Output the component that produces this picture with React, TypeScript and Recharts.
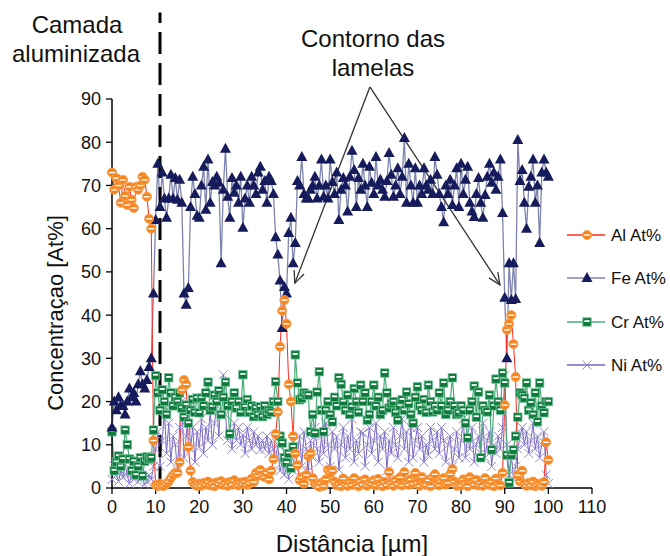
import React from 'react';
import { LineChart, Line, XAxis, YAxis, ReferenceLine } from 'recharts';

// Concentrations (At%) sampled every 0.5 µm from 0 to 100 µm
const al = [
  73, 69, 71.7, 70, 66, 71.3, 67.6, 65.5, 69.7, 66.7,
  64.8, 69.7, 69, 70, 72, 71.3, 67.4, 62.3, 60, 11,
  0.7, 0.4, 1, 0.5, 0.5, 1, 1.5, 2.3, 3, 3.5,
  3.5, 6, 22.7, 25, 24, 9.5, 4, 1.4, 0.8, 0.5,
  1, 0.5, 1.2, 0.8, 1.5, 0.6, 1.1, 0.4, 1.3, 0.9,
  1.6, 0.7, 1.2, 0.5, 1.4, 0.8, 1.8, 1.0, 0.6, 1.3,
  0.9, 1.5, 0.7, 1.1, 2.2, 1.4, 3.5, 2.8, 4.2, 3.0,
  2.5, 3.5, 2, 4, 6.7, 12.5, 17.6, 32.7, 41, 43.5,
  38, 24, 20, 12, 8, 5.3, 1.8, 2.5, 1, 3,
  7.4, 8, 2.3, 1, 0.6, 0.3, 1.2, 0.5, 2.0, 4.2,
  3.5, 4.0, 1.5, 0.6, 1.0, 0.4, 2.2, 0.8, 0.5, 1.5,
  0.7, 2.3, 1.0, 0.4, 1.6, 0.8, 2.0, 0.5, 1.2, 0.9,
  1.8, 0.6, 2.1, 1.0, 0.4, 1.4, 0.7, 3.7, 1.2, 0.5,
  1.8, 0.9, 2.5, 0.6, 3.7, 1.3, 0.7, 2.0, 1.0, 3.5,
  1.2, 0.5, 2.6, 1.0, 0.7, 1.8, 0.4, 2.5, 3.2, 1.0,
  0.6, 1.6, 2.3, 0.8, 1.2, 3.2, 4.4, 1.5, 0.5, 1.0,
  0.6, 2.0, 1.1, 0.4, 2.5, 1.4, 0.8, 1.9, 0.6, 1.2,
  0.5, 2.3, 1.0, 0.7, 1.5, 0.4, 2.2, 1.0, 0.6, 3.5,
  19.2, 36.6, 38, 40, 33.3, 25.7, 3, 1.5, 4, 1,
  0.5, 1.2, 0.6, 1.5, 0.4, 0.8, 1.0, 0.5, 1.4, 10.6,
  6.5,
];

const fe = [
  14, 20, 18, 21, 19, 19, 17, 20, 23, 21,
  22, 20, 24, 27, 24, 23, 25, 28, 30, 45,
  62, 75, 65, 73, 67, 62.5, 67, 72.5, 67, 71.7,
  66.7, 71.3, 66, 45, 42.4, 46.3, 65, 72, 68, 63,
  62.5, 70, 74.3, 64.4, 76, 66, 70.8, 70, 72, 70.6,
  52, 69, 78.5, 67.4, 62.5, 71.7, 68.3, 70, 66, 72,
  60.2, 67, 70, 66, 72, 70, 68, 73, 74.3, 69,
  71, 66, 72, 71, 68, 58, 54, 48, 37, 46.5,
  45, 59, 62.5, 52, 56.7, 71, 70, 76.6, 68, 67,
  67, 69, 70, 72, 67, 70, 76, 67.4, 70, 67,
  76, 70.8, 68, 73, 62, 69, 71.7, 70, 64, 72,
  78, 73.6, 65, 71.7, 69, 75, 70, 65, 74.3, 70.6,
  68, 76.6, 70, 71.3, 69, 67.4, 71, 77.5, 72.5, 67.4,
  70, 74, 68, 72, 81, 66, 75, 70, 66, 74,
  66, 70, 68, 74, 70, 69, 71.3, 68, 76.6, 72.5,
  68, 65, 61.5, 70, 68, 71.3, 65.5, 70, 74, 65,
  75, 68, 71.3, 74.3, 66, 64, 62.7, 68, 71.7, 66,
  62.5, 67.8, 72, 75, 70.6, 73, 69, 72, 76, 63.6,
  44, 30, 52, 43.5, 52, 43.7, 80.5, 71, 73.6, 66,
  60, 69.7, 72, 76, 66, 70, 56.7, 73, 76, 73,
  72,
];

const cr = [
  13, 4, 6, 7.4, 5, 6.7, 13.4, 10, 6.7, 4,
  6.2, 3, 5, 7, 2.8, 6.2, 7.2, 6.7, 7, 13.4,
  26, 22, 18, 22.7, 20, 17, 25.5, 22, 19, 21,
  20, 22, 18.5, 16.4, 19.2, 15, 18, 20.5, 17.5, 20.8,
  17.4, 20.8, 19, 22, 24.5, 18, 18.8, 21.5, 20, 22.5,
  17, 21, 24.5, 19, 12.5, 20, 22, 18.5, 20, 17.5,
  26.2, 18.8, 20.5, 17.5, 19, 16.5, 18.5, 17, 18.8, 16.5,
  19, 17, 18, 17.5, 20, 24.6, 20, 12, 10.4, 7,
  5.8, 8, 4.6, 9.5, 30.8, 24.3, 20.4, 20.8, 22, 21.5,
  21.5, 13, 17, 12.7, 22.2, 26.9, 18, 13, 18, 20,
  17, 15.3, 21, 19, 25.5, 24, 20, 18, 21.5, 17,
  18.8, 23, 20, 17.5, 23.8, 20, 22, 15.7, 17, 20,
  23.8, 19, 21, 17, 18, 26.6, 22, 18.5, 19.5, 20,
  17.5, 15.7, 19, 20.4, 18, 22.2, 19.5, 17, 15, 21,
  23.4, 19, 18, 20.5, 17.5, 23.8, 20, 17.6, 19, 18,
  22, 19, 24.3, 17, 18, 20, 25.5, 19, 17, 17.4,
  19, 18, 15, 11.6, 18, 20, 23.6, 16.4, 22.2, 7,
  19, 18, 17.6, 21.5, 8.8, 19, 25.2, 20, 18, 26.6,
  24.3, 7.6, 1.2, 7.6, 8.8, 12, 16.4, 22, 21.5, 20.8,
  24.3, 18, 19.7, 17, 22, 15.3, 24.3, 19, 17.4, 20,
  20,
];

const ni = [
  2, 5, 3, 1.5, 4, 2.5, 5.5, 3, 1, 3.5,
  2, 4.5, 1.5, 3, 2.5, 0.8, 1.5, 3, 2, 5,
  9, 13, 5, 11, 17.6, 8, 15, 6, 12, 10,
  4, 14, 20, 7, 12, 19, 9, 14, 6, 13,
  9.5, 16, 8, 14, 11, 18, 10, 15, 19, 12,
  22, 26.2, 17, 11, 13, 9, 15, 11, 14, 10,
  12.3, 8, 14, 11, 9, 13, 10, 12, 8.8, 11,
  9, 12, 8, 11, 9, 7, 10, 4, 6, 3,
  5, 2, 7, 4, 10, 8, 12, 5, 13, 9,
  4, 11, 7, 14, 9, 6, 12, 8, 15, 10,
  5, 13, 9, 11.8, 4.2, 10, 14, 7, 12, 9,
  16, 6, 11, 8, 13, 12.7, 5, 10, 14, 8,
  11, 15, 6, 12, 9, 13, 4, 11, 8, 14,
  10, 7, 12, 16, 9, 13, 6, 14, 7, 11,
  14, 9, 12, 6, 10, 7.6, 14, 11, 9, 13,
  8, 14, 11, 6, 10, 12, 5, 9, 13, 7,
  11, 16, 7, 12, 9, 14, 6, 10, 12, 8,
  15, 7, 11, 13, 5, 10, 8, 12, 9, 14,
  26, 10, 3, 8, 2, 5, 9, 12, 14, 10,
  13, 8, 11, 15, 9, 12, 7, 10, 13, 3,
  1,
];

// sampling grid (µm)
const distance = al.map((_, i) => i * 0.5);

const xTicks = [0, 10, 20, 30, 40, 50, 60, 70, 80, 90, 100, 110];
const yTicks = [0, 10, 20, 30, 40, 50, 60, 70, 80, 90];

const seriesNames = ['Al At%', 'Fe At%', 'Cr At%', 'Ni At%'];

const data = distance.map((x, i) => ({ x, al: al[i], fe: fe[i], cr: cr[i], ni: ni[i] }));

const FONT = '"Liberation Sans", Arial, sans-serif';

const C = {
  alLine: '#ff2a1f',
  alDot: '#f5861f',
  feLine: '#7f84ad',
  feDot: '#161b5c',
  crLine: '#48ad78',
  crDot: '#0e7a3c',
  niLine: '#7a66c2',
  niDot: '#9086d2',
};

const AlMark = ({ cx, cy }: any) => (
  <g>
    <circle cx={cx} cy={cy} r={4.6} fill={C.alDot} stroke="#f9a55a" strokeWidth={0.8} />
    <rect x={cx - 3} y={cy - 0.6} width={6} height={1.4} fill="#fff" />
  </g>
);
const FeMark = ({ cx, cy }: any) => (
  <polygon
    points={`${cx},${cy - 6} ${cx - 5.5},${cy + 4} ${cx + 5.5},${cy + 4}`}
    fill={C.feDot}
  />
);
const CrMark = ({ cx, cy }: any) => (
  <g>
    <rect x={cx - 4.2} y={cy - 4.2} width={8.4} height={8.4} fill={C.crDot} stroke="#6cc094" strokeWidth={0.8} />
    <rect x={cx - 2.6} y={cy - 1.8} width={5.2} height={1.8} fill="#fff" />
  </g>
);
const NiMark = ({ cx, cy }: any) => (
  <g stroke={C.niDot} strokeWidth={1}>
    <line x1={cx - 4.5} y1={cy - 4.5} x2={cx + 4.5} y2={cy + 4.5} />
    <line x1={cx - 4.5} y1={cy + 4.5} x2={cx + 4.5} y2={cy - 4.5} />
  </g>
);

const dotFn = (Mark: any, prefix: string) => (p: any) => {
  if (p.cx == null || p.cy == null) return <g key={`${prefix}-${p.index}`} />;
  return <Mark key={`${prefix}-${p.index}`} cx={p.cx} cy={p.cy} />;
};

const ArrowShape = (props: any) => {
  const { x1, y1, x2, y2 } = props;
  const ang = Math.atan2(y2 - y1, x2 - x1);
  const len = 13;
  const spread = 0.42;
  const ax = x2 - len * Math.cos(ang - spread);
  const ay = y2 - len * Math.sin(ang - spread);
  const bx = x2 - len * Math.cos(ang + spread);
  const by = y2 - len * Math.sin(ang + spread);
  return (
    <g stroke="#333" strokeWidth={1.3} fill="none">
      <line x1={x1} y1={y1} x2={x2} y2={y2} />
      <polyline points={`${ax},${ay} ${x2},${y2} ${bx},${by}`} />
    </g>
  );
};

const legendRows = [
  { name: seriesNames[0], line: C.alLine, Mark: AlMark, y: 235 },
  { name: seriesNames[1], line: C.feLine, Mark: FeMark, y: 278 },
  { name: seriesNames[2], line: C.crLine, Mark: CrMark, y: 322 },
  { name: seriesNames[3], line: C.niLine, Mark: NiMark, y: 365 },
];

export default function App() {
  return (
    <div style={{ position: 'absolute', left: 0, top: 0, width: 670, height: 556, background: '#fff', fontFamily: FONT }}>
      <LineChart width={670} height={556} data={data} margin={{ top: 99, right: 78, bottom: 38, left: 52 }}>
        <XAxis
          dataKey="x"
          type="number"
          domain={[0, 110]}
          ticks={xTicks}
          interval={0}
          height={30}
          tickSize={6}
          tickMargin={6}
          tick={{ fill: '#111', fontSize: 18, fontFamily: FONT }}
          tickLine={{ stroke: '#000', strokeWidth: 1.3 }}
          axisLine={{ stroke: '#000', strokeWidth: 1.5 }}
        />
        <YAxis
          type="number"
          domain={[0, 90]}
          ticks={yTicks}
          interval={0}
          width={60}
          tickSize={6}
          tickMargin={5}
          tick={{ fill: '#111', fontSize: 18, fontFamily: FONT }}
          tickLine={{ stroke: '#000', strokeWidth: 1.3 }}
          axisLine={{ stroke: '#000', strokeWidth: 1.5 }}
        />
        <Line dataKey="ni" stroke={C.niLine} strokeWidth={1} dot={dotFn(NiMark, 'ni')} activeDot={false} isAnimationActive={false} />
        <Line dataKey="cr" stroke={C.crLine} strokeWidth={1.2} dot={dotFn(CrMark, 'cr')} activeDot={false} isAnimationActive={false} />
        <Line dataKey="fe" stroke={C.feLine} strokeWidth={1.3} dot={dotFn(FeMark, 'fe')} activeDot={false} isAnimationActive={false} />
        <Line dataKey="al" stroke={C.alLine} strokeWidth={1} dot={dotFn(AlMark, 'al')} activeDot={false} isAnimationActive={false} />
        <ReferenceLine
          segment={[{ x: 11, y: 0 }, { x: 11, y: 110 }]}
          stroke="#000"
          strokeWidth={3}
          strokeDasharray="22 9"
          ifOverflow="visible"
        />
        <ReferenceLine
          segment={[{ x: 59.1, y: 92.8 }, { x: 41.9, y: 47.4 }]}
          ifOverflow="visible"
          shape={ArrowShape}
        />
        <ReferenceLine
          segment={[{ x: 59.1, y: 92.8 }, { x: 88.9, y: 47.0 }]}
          ifOverflow="visible"
          shape={ArrowShape}
        />
      </LineChart>
      <svg width={670} height={556} style={{ position: 'absolute', left: 0, top: 0, pointerEvents: 'none' }}>
        <g fontFamily={FONT} fill="#111">
          <text x={77} y={33} fontSize={24} textAnchor="middle">Camada</text>
          <text x={76} y={62} fontSize={24} textAnchor="middle">aluminizada</text>
          <text x={373} y={47} fontSize={24} textAnchor="middle">Contorno das</text>
          <text x={373} y={76} fontSize={24} textAnchor="middle">lamelas</text>
          <text x={352} y={552} fontSize={24} textAnchor="middle">Distância [µm]</text>
          <text x={55} y={313} fontSize={22} textAnchor="middle" dy="0.35em" transform="rotate(-90 55 313)">Concentraçao [At%]</text>
        </g>
        {legendRows.map((r) => (
          <g key={r.name}>
            <line x1={567} y1={r.y} x2={605} y2={r.y} stroke={r.line} strokeWidth={1.3} />
            <r.Mark cx={587} cy={r.y} />
            <text x={611} y={r.y} dy="0.35em" fontSize={17} fontFamily={FONT} fill="#111">{r.name}</text>
          </g>
        ))}
      </svg>
    </div>
  );
}
